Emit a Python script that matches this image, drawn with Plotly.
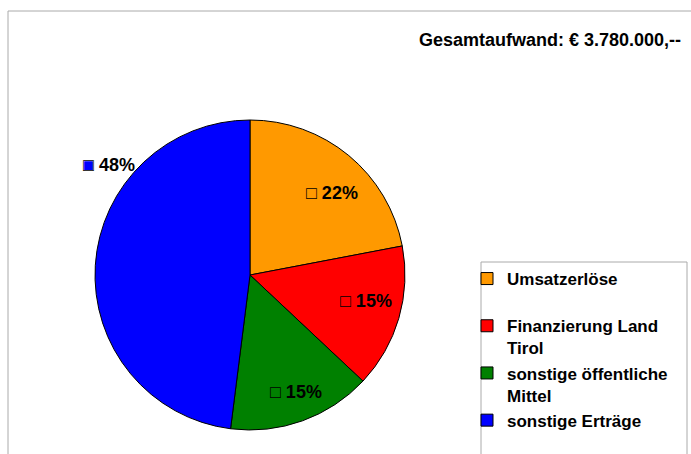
import math
import plotly.graph_objects as go

# ---- data ----
categories = ["Umsatzerlöse", "Finanzierung Land Tirol", "sonstige öffentliche Mittel", "sonstige Erträge"]
legend_labels = ["Umsatzerlöse<br>\u00a0", "Finanzierung Land<br>Tirol", "sonstige öffentliche<br>Mittel", "sonstige Erträge"]
shares = [22, 15, 15, 48]
total_text = "Gesamtaufwand: € 3.780.000,--"

# ---- style ----
colors = ["#FF9900", "#FF0000", "#008000", "#0000FF"]
W, H = 691, 454
FONT = "Arial, 'Liberation Sans', sans-serif"
cx, cy, R = 250, 275, 155          # pie geometry in px
# label placement (radius factor, angle offset deg) per slice
label_r = [0.75, 0.765, 0.81, 1.155]
label_off = [5.4, -3.5, -1.9, 34.4]
label_inside = [True, True, True, False]

fig = go.Figure()
fig.add_trace(go.Pie(
    labels=legend_labels,
    values=shares,
    sort=False,
    direction="clockwise",
    rotation=0,
    marker=dict(colors=colors, line=dict(color="black", width=1)),
    textinfo="none",
    hoverinfo="label+percent",
    domain=dict(x=[(cx - R) / W, (cx + R) / W], y=[(H - cy - R) / H, (H - cy + R) / H]),
))

annotations = []
tot = sum(shares)
cum = 0
for i, v in enumerate(shares):
    mid = (cum + v / 2) / tot * 360 + label_off[i]
    cum += v
    rr = label_r[i] * R
    px = cx + rr * math.sin(math.radians(mid))
    py = cy - rr * math.cos(math.radians(mid))
    pct = f"{round(v / tot * 100)}%"
    font = dict(family=FONT, size=18, color="black", weight="bold")
    if label_inside[i]:
        annotations.append(dict(x=px / W, y=1 - py / H, xref="paper", yref="paper",
                                text="□ " + pct, showarrow=False, xanchor="center",
                                yanchor="middle", font=font))
    else:
        annotations.append(dict(x=px / W, y=1 - py / H, xref="paper", yref="paper",
                                text=f"<span style='color:{colors[i]}'>■</span> " + pct,
                                showarrow=False, xanchor="center", yanchor="middle", font=font))
        annotations.append(dict(x=px / W, y=1 - py / H, xref="paper", yref="paper",
                                text="□<span style='color:rgba(0,0,0,0)'> " + pct + "</span>",
                                showarrow=False, xanchor="center", yanchor="middle", font=font))

annotations.append(dict(x=683 / W, y=1 - 40 / H, xref="paper", yref="paper", text=total_text,
                        showarrow=False, xanchor="right", yanchor="middle",
                        font=dict(family=FONT, size=18, color="black", weight="bold")))

shapes = [
    dict(type="rect", xref="paper", yref="paper", x0=8 / W, x1=1.05, y0=-0.05, y1=1 - 11 / H,
         line=dict(color="#AAAAAA", width=1), fillcolor="rgba(0,0,0,0)", layer="below"),
    dict(type="rect", xref="paper", yref="paper", x0=481 / W, x1=687 / W, y0=-0.05, y1=1 - 262 / H,
         line=dict(color="#AAAAAA", width=1), fillcolor="white", layer="below"),
]

fig.update_layout(
    width=W, height=H,
    margin=dict(l=0, r=0, t=0, b=0, autoexpand=False),
    paper_bgcolor="white", plot_bgcolor="white",
    showlegend=True,
    legend=dict(x=(509 - 42) / W, y=1 - 261 / H, xanchor="left", yanchor="top",
                font=dict(family=FONT, size=17, color="black", weight="bold"),
                bgcolor="rgba(0,0,0,0)", borderwidth=0, valign="top", itemwidth=30),
    annotations=annotations,
    shapes=shapes,
)

fig.write_html("out.html", config={"displayModeBar": False},
               post_script="document.body.style.margin='0';")
